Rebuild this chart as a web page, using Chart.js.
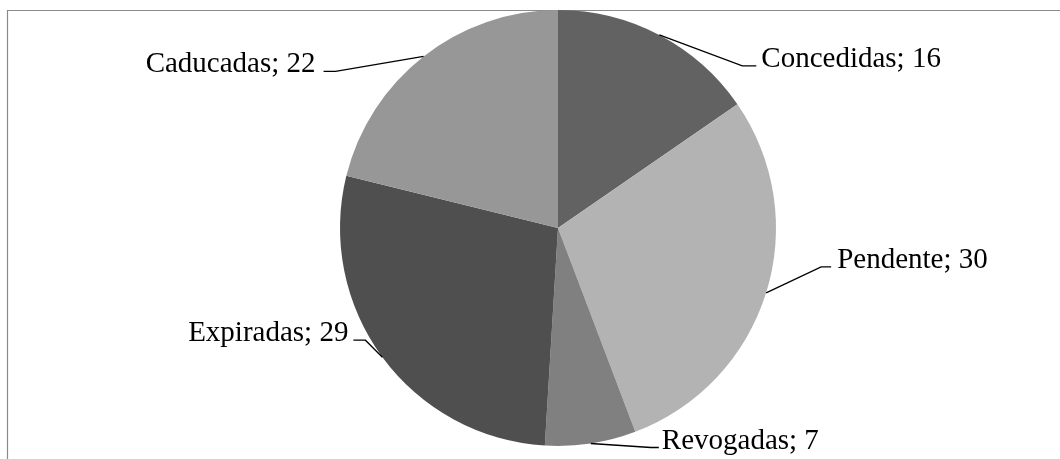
<!DOCTYPE html>
<html>
<head>
<meta charset="utf-8">
<script src="https://cdn.jsdelivr.net/npm/chart.js@4/dist/chart.umd.min.js"></script>
<style>
  html, body { margin: 0; padding: 0; background: #fff; }
  #wrap { width: 1060px; height: 459px; }
</style>
</head>
<body>
<div id="wrap"><canvas id="pie"></canvas></div>
<script>
// situacao dos pedidos
const categorias = ["Concedidas", "Pendente", "Revogadas", "Expiradas", "Caducadas"];
const valores = [16, 30, 7, 29, 22];
const cores = ["#626262", "#b3b3b3", "#808080", "#4f4f4f", "#979797"];

// leader line: elbow offset from the slice edge, then a short horizontal stub
const guias = [
  { dx: 83, dy: 31, stub: 14, gap: 5 },
  { dx: 55, dy: -26, stub: 10, gap: 6 },
  { dx: 60, dy: 4, stub: 8, gap: 3 },
  { dx: -17, dy: -17, stub: -12, gap: 5 },
  { dx: -88, dy: 15, stub: -12, gap: 8 }
];

// frame round the chart (only top and left fall inside the canvas)
const moldura = {
  id: "moldura",
  beforeDraw(chart) {
    const c = chart.ctx;
    c.save();
    c.strokeStyle = "#8a8a8a";
    c.lineWidth = 1.2;
    c.beginPath();
    c.moveTo(7.5, chart.height + 5);
    c.lineTo(7.5, 10.5);
    c.lineTo(chart.width + 5, 10.5);
    c.stroke();
    c.restore();
  }
};

const rotulos = {
  id: "rotulos",
  afterDraw(chart) {
    const c = chart.ctx;
    const meta = chart.getDatasetMeta(0);
    c.save();
    c.font = '29px "Liberation Serif", "Times New Roman", serif';
    c.fillStyle = "#000";
    c.strokeStyle = "#000";
    c.lineWidth = 1.3;
    c.textBaseline = "alphabetic";
    meta.data.forEach((arc, i) => {
      const p = arc.getProps(["x", "y", "startAngle", "endAngle", "outerRadius"], true);
      const mid = (p.startAngle + p.endAngle) / 2;
      const ax = p.x + Math.cos(mid) * p.outerRadius;
      const ay = p.y + Math.sin(mid) * p.outerRadius;
      const g = guias[i];
      const ex = ax + g.dx, ey = ay + g.dy;
      const hx = ex + g.stub;
      c.beginPath();
      c.moveTo(ax, ay);
      c.lineTo(ex, ey);
      c.lineTo(hx, ey);
      c.stroke();
      const txt = categorias[i] + "; " + valores[i];
      if (g.stub > 0) {
        c.textAlign = "left";
        c.fillText(txt, hx + g.gap, ey + 1);
      } else {
        c.textAlign = "right";
        c.fillText(txt, hx - g.gap, ey + 1);
      }
    });
    c.restore();
  }
};

new Chart(document.getElementById("pie"), {
  type: "pie",
  data: {
    labels: categorias,
    datasets: [{
      data: valores,
      backgroundColor: cores,
      borderWidth: 0
    }]
  },
  options: {
    responsive: true,
    maintainAspectRatio: false,
    animation: false,
    layout: { padding: { left: 340, right: 284, top: 10, bottom: 13 } },
    plugins: {
      legend: { display: false },
      tooltip: { enabled: false }
    }
  },
  plugins: [moldura, rotulos]
});
</script>
</body>
</html>
